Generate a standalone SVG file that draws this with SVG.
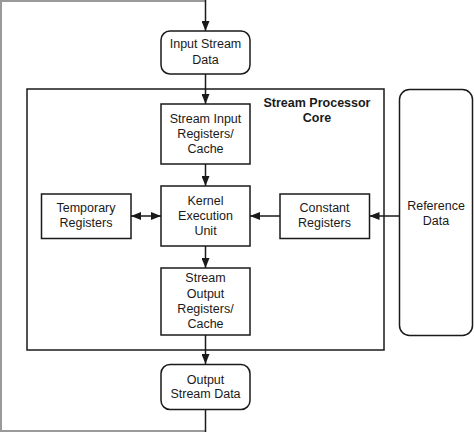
<svg xmlns="http://www.w3.org/2000/svg" width="474" height="432" viewBox="0 0 474 432">
<style>
.box{fill:#fff;stroke:#1a1a1a;stroke-width:1.5}
.t{font-family:"Liberation Sans",Arial,sans-serif;font-size:12.5px;fill:#1a1a1a;text-anchor:middle}
.b{font-weight:bold}
.c{fill:none;stroke:#1a1a1a;stroke-width:1.5}
.g{fill:none;stroke:#9a9a9a;stroke-width:2}
</style>
<defs>
<marker id="ah" viewBox="0 0 10 8" refX="10" refY="4" markerWidth="10" markerHeight="8" markerUnits="userSpaceOnUse" orient="auto-start-reverse">
<path d="M0,0 L10,4 L0,8 Z" fill="#1a1a1a"/>
</marker>
</defs>
<rect width="474" height="432" fill="#fff"/>
<g id="core">
<rect class="box" x="27" y="89" width="357" height="261"/>
<text class="t b" x="317" y="107">Stream Processor</text>
<text class="t b" x="317" y="122">Core</text>
</g>
<g id="connectors">
<polyline class="g" points="205,1 1,1 1,431 205,431"/>
<line class="c" x1="205.5" y1="0" x2="205.5" y2="31" marker-end="url(#ah)"/>
<line class="c" x1="205.5" y1="74" x2="205.5" y2="104" marker-end="url(#ah)"/>
<line class="c" x1="205.5" y1="164" x2="205.5" y2="186" marker-end="url(#ah)"/>
<line class="c" x1="205.5" y1="246" x2="205.5" y2="268" marker-end="url(#ah)"/>
<line class="c" x1="205.5" y1="335" x2="205.5" y2="364" marker-end="url(#ah)"/>
<line class="c" x1="205.5" y1="409" x2="205.5" y2="432"/>
<line class="c" x1="131" y1="216" x2="161" y2="216" marker-start="url(#ah)" marker-end="url(#ah)"/>
<line class="c" x1="280" y1="216" x2="250" y2="216" marker-end="url(#ah)"/>
<line class="c" x1="399" y1="216" x2="369.5" y2="216" marker-end="url(#ah)"/>
</g>
<g id="input-stream">
<rect class="box" x="161" y="31" width="89" height="43" rx="9"/>
<text class="t" x="205.5" y="48">Input Stream</text>
<text class="t" x="205.5" y="64">Data</text>
</g>
<g id="stream-input">
<rect class="box" x="161" y="104" width="89" height="60"/>
<text class="t" x="205.5" y="122.5">Stream Input</text>
<text class="t" x="205.5" y="138">Registers/</text>
<text class="t" x="205.5" y="153">Cache</text>
</g>
<g id="kernel">
<rect class="box" x="161" y="186" width="89" height="60"/>
<text class="t" x="205.5" y="204.5">Kernel</text>
<text class="t" x="205.5" y="219.5">Execution</text>
<text class="t" x="205.5" y="234.5">Unit</text>
</g>
<g id="temporary">
<rect class="box" x="41.5" y="194" width="89.5" height="44.5"/>
<text class="t" x="86" y="212">Temporary</text>
<text class="t" x="86" y="227">Registers</text>
</g>
<g id="constant">
<rect class="box" x="280" y="194" width="89.5" height="44.5"/>
<text class="t" x="324.5" y="212">Constant</text>
<text class="t" x="324.5" y="227">Registers</text>
</g>
<g id="reference">
<rect class="box" x="399.5" y="89.5" width="73" height="246" rx="10"/>
<text class="t" x="436" y="209.5">Reference</text>
<text class="t" x="436" y="224.5">Data</text>
</g>
<g id="stream-output">
<rect class="box" x="161" y="268" width="89" height="67"/>
<text class="t" x="205.5" y="282">Stream</text>
<text class="t" x="205.5" y="297.5">Output</text>
<text class="t" x="205.5" y="312.5">Registers/</text>
<text class="t" x="205.5" y="327.5">Cache</text>
</g>
<g id="output-stream">
<rect class="box" x="161" y="364.5" width="89" height="45" rx="9"/>
<text class="t" x="205.5" y="383.5">Output</text>
<text class="t" x="205.5" y="398">Stream Data</text>
</g>
</svg>
